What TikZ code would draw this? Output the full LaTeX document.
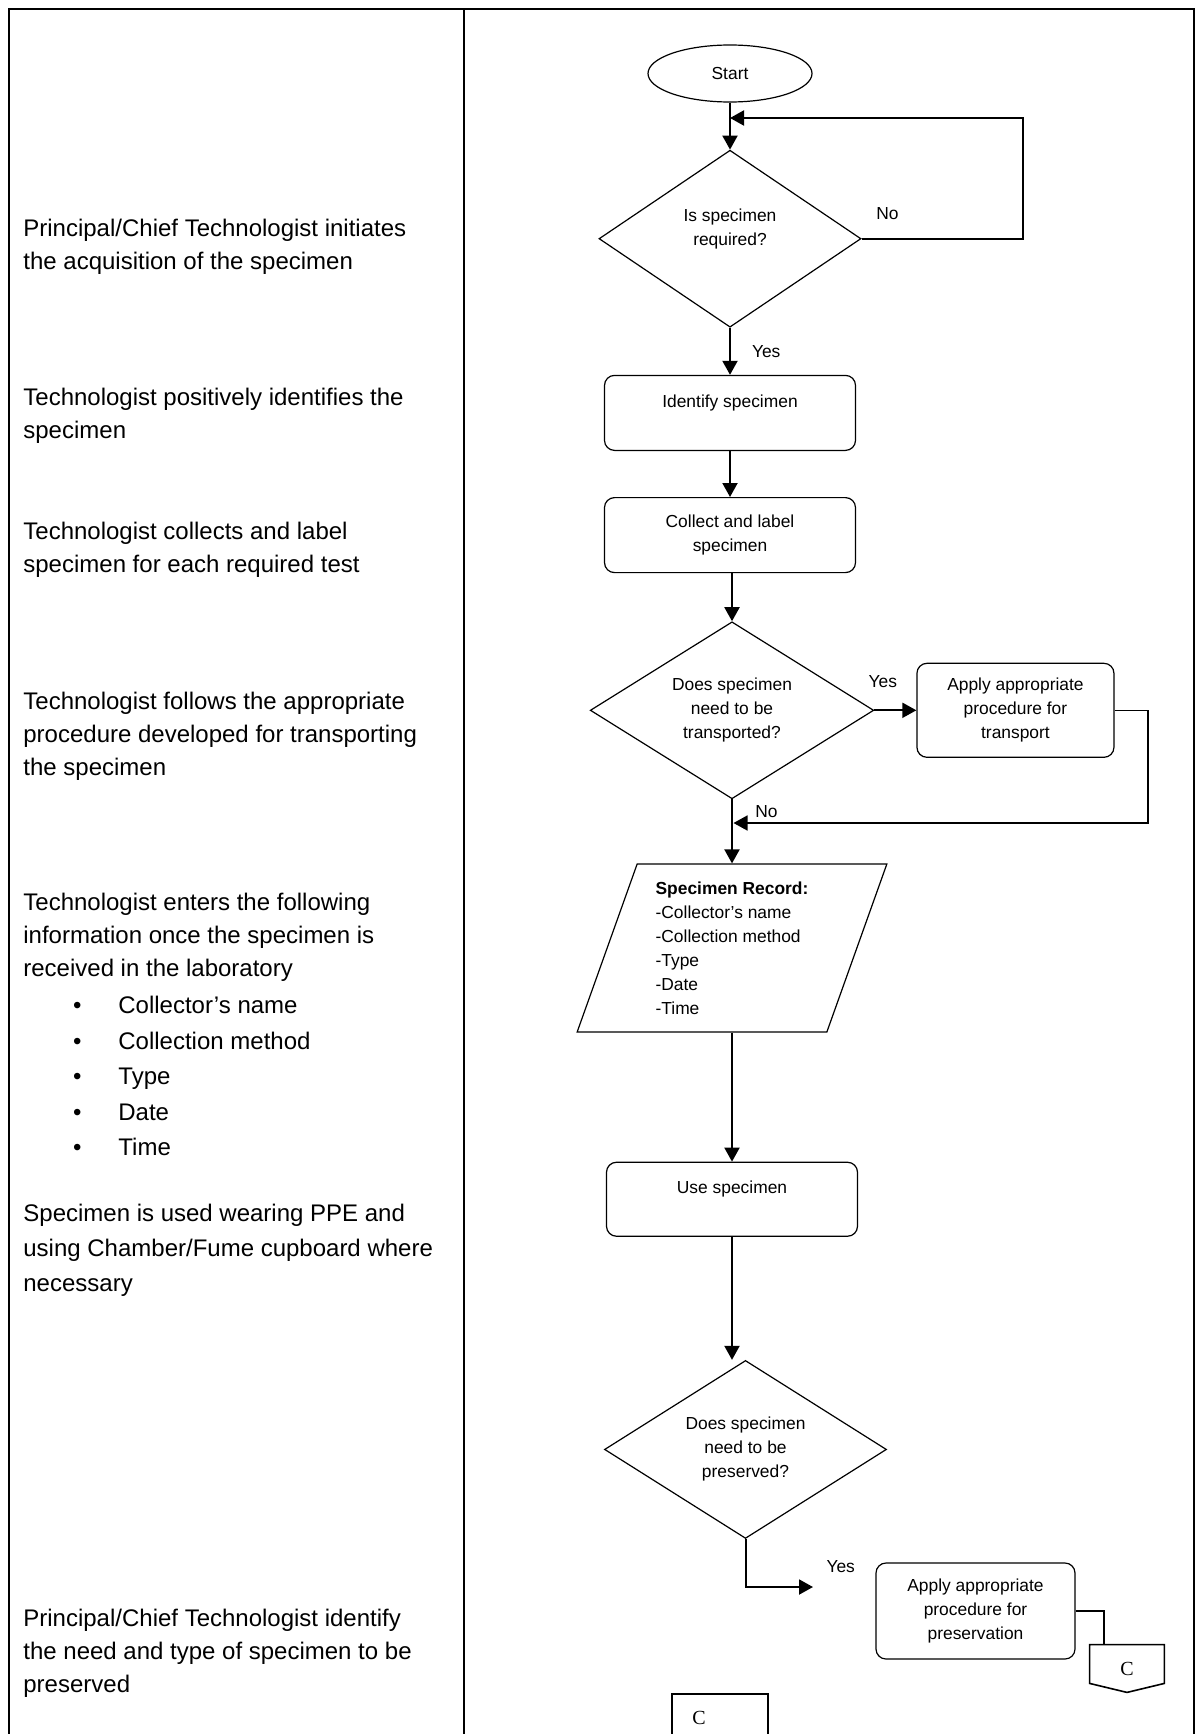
\documentclass[tikz,border=0pt]{standalone}
\usepackage{fontspec}
\setmainfont{Liberation Sans}
\newfontfamily\connfont{Liberation Serif}
\usetikzlibrary{positioning}
\usetikzlibrary{shapes.geometric}
\usetikzlibrary{arrows.meta}
\newcommand{\chartfont}{\fontsize{8.7}{12}\selectfont}
\newcommand{\notefont}{\fontsize{12}{16.5}\selectfont}

\begin{document}
\begin{tikzpicture}[x=1pt,y=-1pt,node distance=24pt,
    every node/.style={inner sep=0pt,font=\chartfont},
    term/.style={draw,ellipse,line width=0.6pt,minimum width=82pt,minimum height=28.5pt},
    decision/.style={draw,diamond,aspect=1.6,align=center,line width=0.6pt},
    box/.style={draw,rounded corners=5pt,align=center,line width=0.6pt,
                minimum width=125.5pt,minimum height=37.5pt},
    record/.style={draw,trapezium,trapezium left angle=70,trapezium right angle=110,
                   trapezium stretches=true,align=left,line width=0.6pt,
                   minimum width=155pt,minimum height=84pt},
    note/.style={anchor=north west,align=left,font=\notefont},
    flow/.style={-{Triangle[length=7pt,width=7.5pt]},line width=1pt},
    sideline/.style={line width=0.8pt},
    frame/.style={line width=1.1pt}]

    \useasboundingbox (0,0) rectangle (601,867);

    %% table
    \draw[frame] (4.5,867) -- (4.5,4.5) -- (597,4.5) -- (597,867);
    \draw[frame] (232,4.5) -- (232,867);

    %% left column
    \node (n1) [note] at (11.5,109.5) {Principal/Chief Technologist initiates\\the acquisition of the specimen};
    \node (n2) [note] at (11.5,194) {Technologist positively identifies the\\specimen};
    \node (n3) [note] at (11.5,261) {Technologist collects and label\\specimen for each required test};
    \node (n4) [note] at (11.5,346) {Technologist follows the appropriate\\procedure developed for transporting\\the specimen};
    \node (n5) [note] at (11.5,446.5) {Technologist enters the following\\information once the specimen is\\received in the laboratory};
    \node (n5b) [note,font=\fontsize{12}{17.75}\selectfont] at (36.4,498)
        {\makebox[22.6pt][l]{\textbullet}Collector’s name\\
         \makebox[22.6pt][l]{\textbullet}Collection method\\
         \makebox[22.6pt][l]{\textbullet}Type\\
         \makebox[22.6pt][l]{\textbullet}Date\\
         \makebox[22.6pt][l]{\textbullet}Time};
    \node (n6) [note,font=\fontsize{12}{17.5}\selectfont] at (11.5,602) {Specimen is used wearing PPE and\\using Chamber/Fume cupboard where\\necessary};
    \node (n7) [note] at (11.5,804.5) {Principal/Chief Technologist identify\\the need and type of specimen to be\\preserved};

    %% flow chart
    \node (start) [term] at (365,36.75) {Start};
    \node (dec1) [decision,minimum width=131pt,minimum height=88.5pt,below=23.5pt of start] {Is specimen\\required?\\\mbox{}};
    \draw[flow] (start.south) -- (dec1.north);
    \coordinate (back1) at (365,59);
    \draw[flow] (dec1.east) -- node[above=9pt,pos=0.16] {No} ++(80.5,0) |- (back1);

    \node (ident) [box,below=23.5pt of dec1] {Identify specimen\\\mbox{}};
    \draw[flow] (dec1.south) -- node[right=10.5pt,midway] {Yes} (ident.north);
    \node (collect) [box,below=23pt of ident] {Collect and label\\specimen};
    \draw[flow] (ident.south) -- (collect.north);

    \node (dec2) [decision,minimum width=141.75pt,minimum height=88.5pt,below=24pt of collect,xshift=1pt] {Does specimen\\need to be\\transported?};
    \draw[flow] (dec2.north |- collect.south) -- (dec2.north);
    \node (trans) [box,minimum width=98.5pt,minimum height=47pt,right=21pt of dec2] {Apply appropriate\\procedure for\\transport};
    \draw[flow] (dec2.east) -- node[above=11pt,pos=0.2] {Yes} (trans.west);

    \node (record) [record,below=32pt of dec2] {\textbf{Specimen Record:}\\-Collector’s name\\-Collection method\\-Type\\-Date\\-Time};
    \draw[flow] (dec2.south) -- (record.north);
    \coordinate (join2) at (366.75,411.5);
    \draw[sideline,-{Triangle[length=7pt,width=7.5pt]}] (trans.east) -- ++(16.75,0) |- (join2)
        node[above right=2.5pt and 10.5pt] {No};

    \node (use) [box,minimum height=37pt,below=64.5pt of record] {Use specimen\\\mbox{}};
    \draw[flow] (record.south) -- (use.north);
    \node (dec3) [decision,minimum width=141pt,minimum height=89pt,below=61.5pt of use,xshift=6.75pt] {Does specimen\\need to be\\preserved?};
    \draw[flow] (use.south) -- (use.south |- dec3.north);

    \coordinate (yes3) at (406.5,793.5);
    \draw[flow] (dec3.south) |- (yes3) node[above right=6.8pt and 6.25pt] {Yes};
    \node (pres) [box,minimum width=99.5pt,minimum height=48pt] at (487.75,805.5) {Apply appropriate\\procedure for\\preservation};

    %% off-page connectors
    \node (pc) [minimum width=37pt,minimum height=23.5pt,font=\connfont] at (563.5,834.25) {C};
    \draw[line width=0.8pt] (pc.north west) -- (pc.north east) -- ([yshift=4.5pt]pc.south east)
        -- (pc.south) -- ([yshift=4.5pt]pc.south west) -- cycle;
    \draw[sideline] (pres.east) -| ([xshift=-11.5pt]pc.north);
    \node (cbox) [draw,line width=0.8pt,minimum width=48pt,minimum height=40pt,anchor=north] at (360,846.5) {};
    \node (ctext) [font=\connfont] at (349.5,859) {C};
\end{tikzpicture}
\end{document}
